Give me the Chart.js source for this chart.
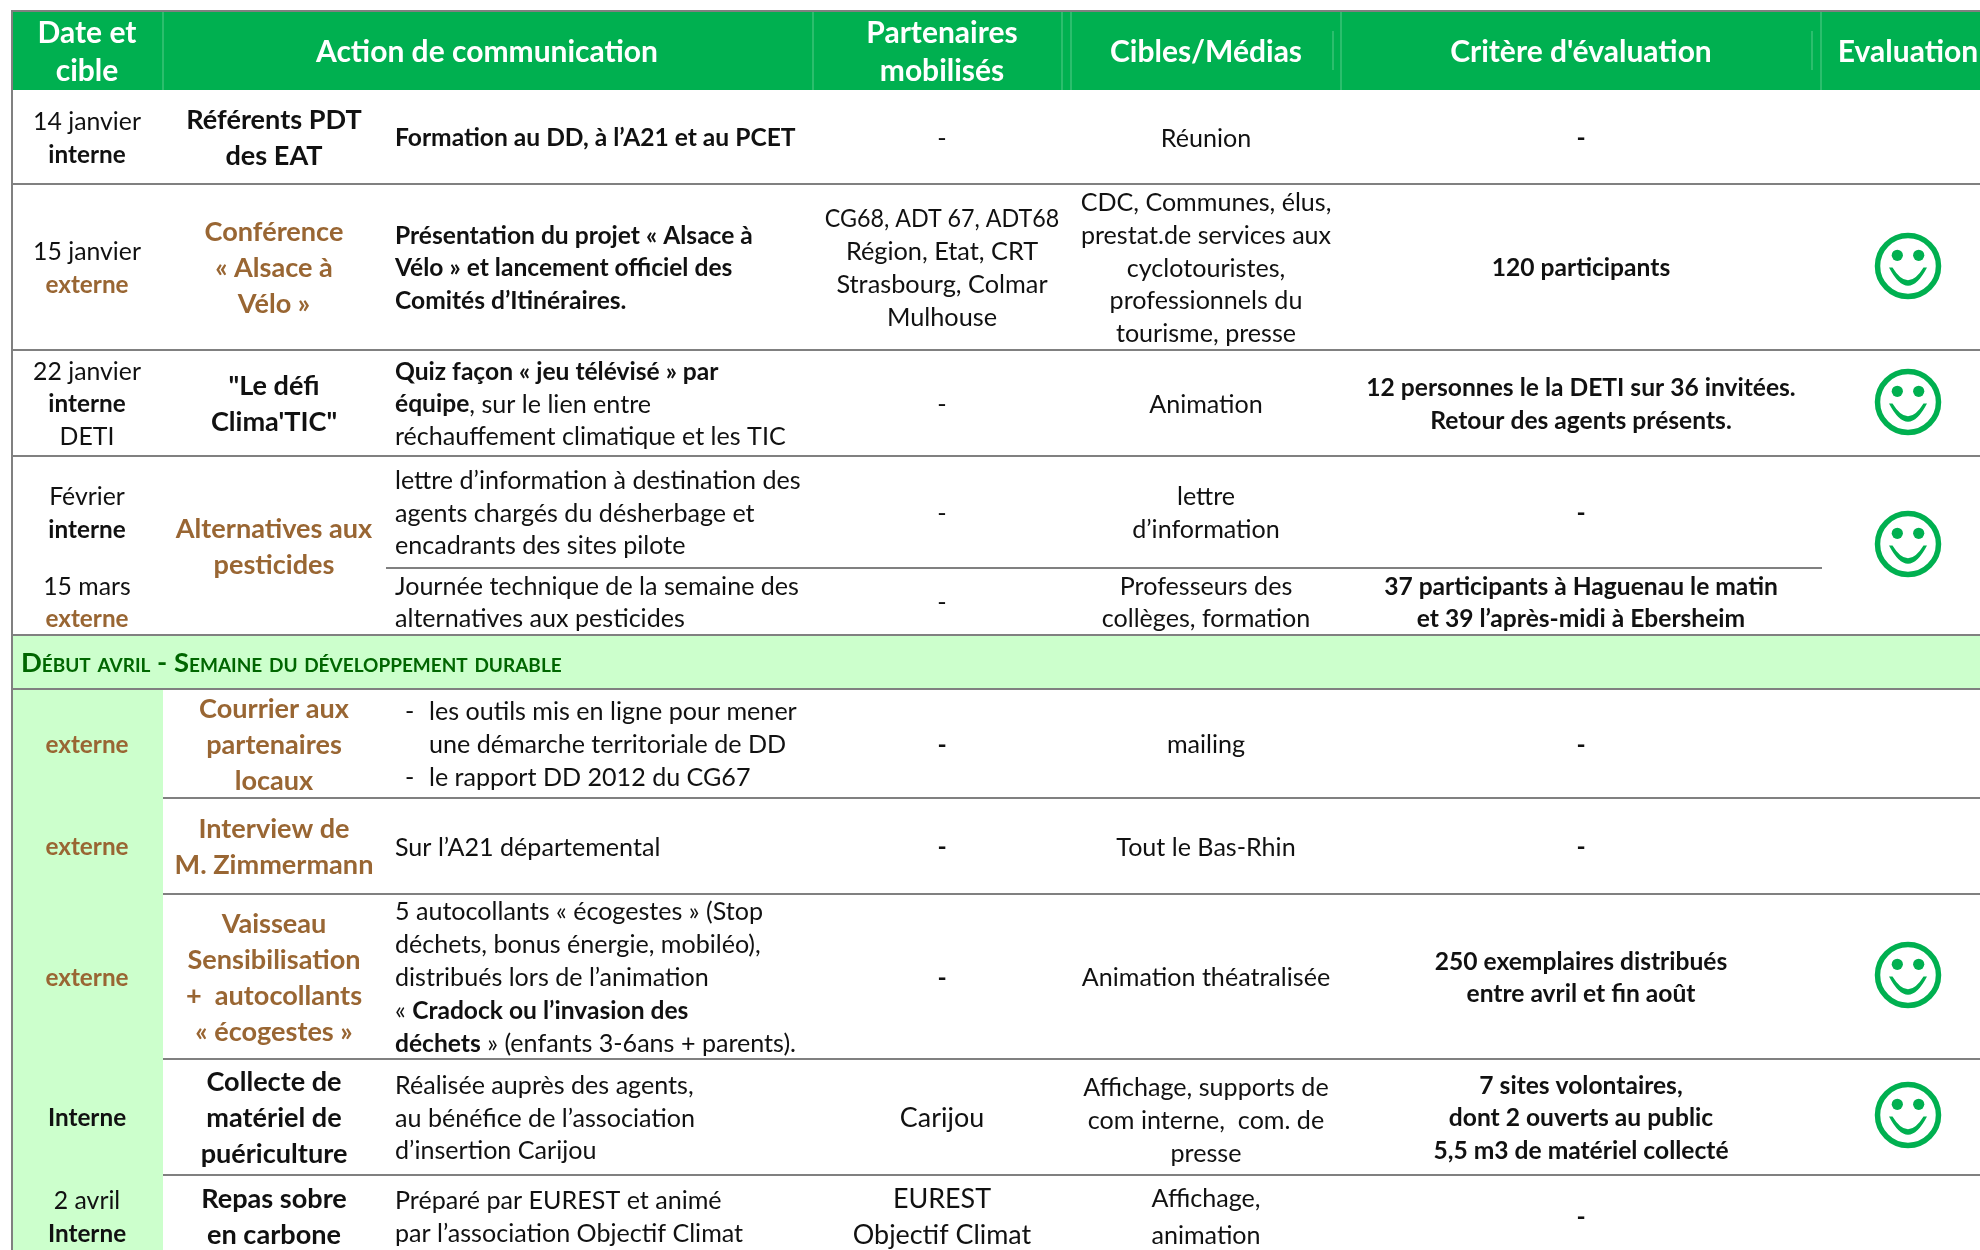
<!DOCTYPE html>
<html lang="fr">
<head>
    <meta charset="UTF-8">
    <title>Actions de communication</title>
    <script src="https://cdn.jsdelivr.net/npm/chart.js@4/dist/chart.umd.min.js"></script>
    <style>
        html, body { margin: 0; padding: 0; background: #fff; overflow: hidden; }
        canvas { position: absolute; left: 0; top: 0; }
    </style>
</head>
<body>
    <canvas id="planChart" width="1980" height="1250"></canvas>

    <script>
        // * bold, ^ bold brown
        const headers = [['Date et', 'cible'], ['Action de communication'], ['Partenaires', 'mobilisés'], ['Cibles/Médias'], ["Critère d'évaluation"], ['Evaluation']];
        const dates = [
            ['14 janvier', '*interne'],
            ['15 janvier', '^externe'],
            ['22 janvier', '*interne', 'DETI'],
            ['Février', '*interne'],
            ['15 mars', '^externe'],
            ['^externe'],
            ['^externe'],
            ['^externe'],
            ['*Interne'],
            ['2 avril', '*Interne']
        ];
        const actions = [
            ['*Référents PDT', '*des EAT'],
            ['^Conférence', '^« Alsace à', '^Vélo »'],
            ['*"Le défi', "*Clima'TIC\""],
            ['^Alternatives aux', '^pesticides'],
            null,
            ['^Courrier aux', '^partenaires', '^locaux'],
            ['^Interview de', '^M. Zimmermann'],
            ['^Vaisseau', '^Sensibilisation', '^+  autocollants', '^« écogestes »'],
            ['*Collecte de', '*matériel de', '*puériculture'],
            ['*Repas sobre', '*en carbone']
        ];
        const details = [
            ['*Formation au DD, à l’A21 et au PCET'],
            ['*Présentation du projet « Alsace à', '*Vélo » et lancement officiel des', '*Comités d’Itinéraires.'],
            ['*Quiz façon « jeu télévisé » par', ['*équipe', ', sur le lien entre'], 'réchauffement climatique et les TIC'],
            ['lettre d’information à destination des', 'agents chargés du désherbage et', 'encadrants des sites pilote'],
            ['Journée technique de la semaine des', 'alternatives aux pesticides'],
            ['• les outils mis en ligne pour mener', '| une démarche territoriale de DD', '• le rapport DD 2012 du CG67'],
            ['Sur l’A21 départemental'],
            ['5 autocollants « écogestes » (Stop', 'déchets, bonus énergie, mobiléo),', 'distribués lors de l’animation', ['« ', '*Cradock ou l’invasion des'], ['*déchets', ' » (enfants 3-6ans + parents).']],
            ['Réalisée auprès des agents,', 'au bénéfice de l’association', 'd’insertion Carijou'],
            ['Préparé par EUREST et animé', 'par l’association Objectif Climat']
        ];
        const partners = [
            ['-'],
            ['CG68, ADT 67, ADT68', 'Région, Etat, CRT', 'Strasbourg, Colmar', 'Mulhouse'],
            ['-'], ['-'], ['-'],
            ['*-'], ['*-'], ['*-'],
            ['Carijou'],
            ['EUREST', 'Objectif Climat']
        ];
        const targets = [
            ['Réunion'],
            ['CDC, Communes, élus,', 'prestat.de services aux', 'cyclotouristes,', 'professionnels du', 'tourisme, presse'],
            ['Animation'],
            ['lettre', 'd’information'],
            ['Professeurs des', 'collèges, formation'],
            ['mailing'],
            ['Tout le Bas-Rhin'],
            ['Animation théatralisée'],
            ['Affichage, supports de', 'com interne,  com. de', 'presse'],
            ['Affichage,', 'animation']
        ];
        const criteria = [
            ['*-'],
            ['*120 participants'],
            ['*12 personnes le la DETI sur 36 invitées.', '*Retour des agents présents.'],
            ['*-'],
            ['*37 participants à Haguenau le matin', '*et 39 l’après-midi à Ebersheim'],
            ['*-'], ['*-'],
            ['*250 exemplaires distribués', '*entre avril et fin août'],
            ['*7 sites volontaires,', '*dont 2 ouverts au public', '*5,5 m3 de matériel collecté'],
            ['*-']
        ];
        const bandTitle = 'Début avril - Semaine du développement durable';

        // table grid (same units as the axes)
        const rowTops = [90, 184, 350, 456, 568, 689, 798, 894, 1059, 1175];
        const rowBottoms = [184, 350, 456, 568, 635, 798, 894, 1059, 1175, 1257];
        const ruleYs = [184, 350, 456, 635, 689];
        const greenRuleYs = [798, 894, 1059, 1175];
        const headerDividers = [163, 813, 1062, 1071, 1341, 1821];
        const headerShortDividers = [1333, 1812];
        const smileyX = [1908, 1908, 1908, 1908, 1908];
        const smileyY = [266, 402, 544, 975, 1115];

        const colCenters = { date: 87, action: 274, partner: 942, target: 1206, criterion: 1581 };
        const detailLeft = 395;
        const headerCenters = [87, 487, 942, 1206, 1581, 1908];
        const textDrop = 1.5; // Lato sits a little higher than the original face

        const FONT = 'Lato, "Open Sans", sans-serif';
        const BROWN = '#996633';
        const DARK = '#111111';
        const GREEN = '#00B050';
        const PALE = '#CCFFCC';
        const RULE = '#808080';

        const rectSet = (x0, x1, y0, y1, color, order) => ({
            data: [{ x: x0, y: y0 }, { x: x1, y: y0 }],
            fill: { value: y1 }, backgroundColor: color, borderWidth: 0, pointRadius: 0, order
        });
        const lineSet = (x0, y0, x1, y1, color, width, order) => ({
            data: [{ x: x0, y: y0 }, { x: x1, y: y1 }],
            borderColor: color, borderWidth: width, pointRadius: 0, fill: false, order
        });

        const smileyImage = () => {
            const c = document.createElement('canvas');
            c.width = 72; c.height = 72;
            const g = c.getContext('2d');
            g.translate(36, 36);
            g.strokeStyle = GREEN; g.fillStyle = GREEN;
            g.lineWidth = 5.5;
            g.beginPath(); g.arc(0, 0, 30.5, 0, Math.PI * 2); g.stroke();
            [-10.7, 10.7].forEach(ex => { g.beginPath(); g.arc(ex, -10.7, 5.6, 0, Math.PI * 2); g.fill(); });
            g.beginPath();
            g.moveTo(-19, 1.5);
            g.quadraticCurveTo(0, 38, 19, 1.5);
            g.lineTo(15.5, 1.5);
            g.quadraticCurveTo(0, 27, -15.5, 1.5);
            g.closePath(); g.fill();
            return c;
        };

        const datasets = [
            rectSet(13, 1980, 12, 90, GREEN, 20),
            rectSet(13, 1980, 635, 689, PALE, 20),
            rectSet(13, 163, 689, 1250, PALE, 20)
        ];
        headerDividers.forEach(x => datasets.push(lineSet(x, 12, x, 90, '#33C073', 1, 15)));
        headerShortDividers.forEach(x => datasets.push(lineSet(x, 31, x, 70, '#33C073', 1, 15)));
        ruleYs.forEach(y => datasets.push(lineSet(13, y, 1980, y, RULE, 2, 10)));
        greenRuleYs.forEach(y => datasets.push(lineSet(163, y, 1980, y, RULE, 2, 10)));
        datasets.push(lineSet(386, 568, 1822, 568, RULE, 2, 10));
        datasets.push(lineSet(12, 10, 12, 1250, RULE, 2, 10));
        datasets.push(lineSet(11, 11, 1980, 11, RULE, 2, 10));
        datasets.push({
            data: smileyX.map((x, i) => ({ x, y: smileyY[i] })),
            showLine: false, pointStyle: smileyImage(), order: 1
        });

        // one line = a string or a list of strings, each with its own style mark
        const toRuns = (line, baseColor) => [].concat(line).map(part => {
            if (part[0] === '*') return { text: part.slice(1), bold: true, color: baseColor };
            if (part[0] === '^') return { text: part.slice(1), bold: true, color: BROWN };
            return { text: part, bold: false, color: baseColor };
        });

        const drawLine = (ctx, line, x, y, size, align, color) => {
            const runs = toRuns(line, color);
            const font = r => r.bold ? `bold ${size - 0.2}px ${FONT}` : `${size + 0.3}px ${FONT}`;
            let width = 0;
            runs.forEach(r => { ctx.font = font(r); width += ctx.measureText(r.text).width; });
            // Lato figures run wider than the original face
            const squeeze = line === 'CG68, ADT 67, ADT68' ? 0.92 : 1;
            width *= squeeze;
            let cx = align === 'center' ? x - width / 2 : x;
            runs.forEach(r => {
                ctx.font = font(r);
                ctx.fillStyle = r.color;
                const w = ctx.measureText(r.text).width * squeeze;
                ctx.fillText(r.text, cx, y, w);
                cx += w;
            });
        };

        const drawCell = (ctx, lines, x, yMid, size, lead, align, color) => {
            lines.forEach((line, i) => {
                const y = yMid + textDrop + (i - (lines.length - 1) / 2) * lead;
                if (typeof line === 'string' && line.startsWith('• ')) {
                    drawLine(ctx, '-', x + 10, y, size, 'left', color);
                    drawLine(ctx, line.slice(2), x + 34, y, size, 'left', color);
                } else if (typeof line === 'string' && line.startsWith('| ')) {
                    drawLine(ctx, line.slice(2), x + 34, y, size, 'left', color);
                } else {
                    drawLine(ctx, line, x, y, size, align, color);
                }
            });
        };

        const tableText = {
            id: 'tableText',
            afterDatasetsDraw(chart) {
                const { ctx, scales: { x: xs, y: ys } } = chart;
                const px = v => xs.getPixelForValue(v);
                const py = v => ys.getPixelForValue(v);
                const rowMid = i => py((rowTops[i] + rowBottoms[i]) / 2);
                ctx.save();
                ctx.beginPath();
                ctx.rect(0, 0, 1980, 1250);
                ctx.clip();
                ctx.textBaseline = 'middle';
                ctx.textAlign = 'left';

                headers.forEach((lines, i) => {
                    const runs = lines.map(t => '*' + t);
                    drawCell(ctx, runs, px(headerCenters[i]), py(51), 30.2, 38, 'center', '#FFFFFF');
                });
                rowTops.forEach((top, i) => {
                    drawCell(ctx, dates[i], px(colCenters.date), rowMid(i), 24.5, 32.8, 'center', DARK);
                    if (actions[i]) {
                        const mid = i === 3 ? py((rowTops[3] + rowBottoms[4]) / 2) : rowMid(i);
                        drawCell(ctx, actions[i], px(colCenters.action), mid, 27.3, 36, 'center', DARK);
                    }
                    drawCell(ctx, details[i], px(detailLeft), rowMid(i), 24.8, 32.8, 'left', DARK);
                    const big = i >= 8;
                    drawCell(ctx, partners[i], px(colCenters.partner), rowMid(i), big ? 26.6 : 25, big ? 36 : 32.8, 'center', DARK);
                    // the last-but-one target cell sits a bit under the row centre
                    const targetMid = rowMid(i) + (i === 8 ? 2.5 : 0);
                    drawCell(ctx, targets[i], px(colCenters.target), targetMid, 24.8, i === 9 ? 37 : 32.8, 'center', DARK);
                    drawCell(ctx, criteria[i], px(colCenters.criterion), rowMid(i), 24.8, 32.8, 'center', DARK);
                });

                ctx.font = `small-caps bold 27.4px ${FONT}`;
                ctx.fillStyle = '#006600';
                ctx.fillText(bandTitle, px(21), py(663));
                ctx.restore();
            }
        };

        new Chart(document.getElementById('planChart'), {
            type: 'line',
            data: { datasets },
            plugins: [tableText],
            options: {
                responsive: false,
                animation: false,
                parsing: false,
                normalized: true,
                layout: { padding: 0, autoPadding: false },
                plugins: { legend: { display: false }, tooltip: { enabled: false } },
                scales: {
                    x: { type: 'linear', min: 0, max: 1980, display: false },
                    y: { type: 'linear', min: 0, max: 1250, reverse: true, display: false }
                }
            }
        });
    </script>
</body>
</html>
